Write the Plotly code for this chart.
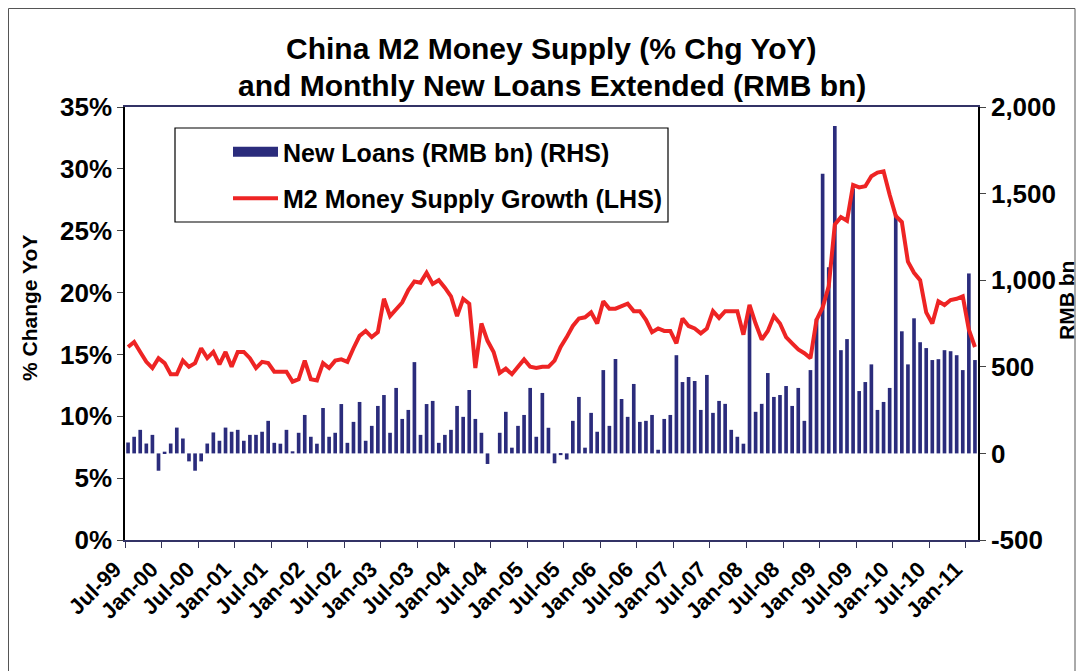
import plotly.graph_objects as go
import pandas as pd

# ---- data (Jul-99 .. Feb-11, monthly) ----
months = list(pd.date_range("1999-07-01", periods=140, freq="MS").strftime("%b-%y"))

m2_growth = [
    15.6, 16.0, 15.2, 14.4, 13.9, 14.7, 14.3, 13.4, 13.4, 14.5, 14.0, 14.3,
    15.5, 14.7, 15.2, 14.2, 15.2, 14.0, 15.2, 15.2, 14.7, 13.9, 14.4, 14.3,
    13.6, 13.6, 13.6, 12.8, 13.0, 14.5, 13.0, 12.9, 14.3, 13.9, 14.5, 14.6,
    14.4, 15.5, 16.5, 16.9, 16.4, 16.8, 19.5, 18.1, 18.6, 19.2, 20.2, 20.9,
    20.8, 21.6, 20.7, 21.0, 20.4, 19.7, 18.1, 19.5, 19.1, 13.9, 17.5, 16.1,
    15.2, 13.5, 13.85, 13.4, 14.0, 14.6, 14.0, 13.9, 14.0, 14.0, 14.5, 15.6,
    16.4, 17.3, 17.9, 18.0, 18.4, 17.5, 19.3, 18.7, 18.7, 18.9, 19.1, 18.5,
    18.5, 17.8, 16.8, 17.1, 16.9, 16.9, 15.9, 17.9, 17.3, 17.1, 16.7, 17.1,
    18.5, 17.95, 18.5, 18.5, 18.5, 16.6, 19.0, 17.5, 16.2, 16.9, 18.1, 17.5,
    16.4, 15.9, 15.4, 15.1, 14.7, 17.8, 18.8, 20.5, 25.5, 26.1, 25.8, 28.7,
    28.5, 28.6, 29.4, 29.7, 29.8, 27.9, 26.2, 25.7, 22.5, 21.6, 21.0, 18.4,
    17.5, 19.3, 19.0, 19.4, 19.5, 19.7, 17.0, 15.6,
]

new_loans = [
    63, 96, 136, 57, 107, -100, 10, 57, 149, 86, -46, -100,
    -46, 57, 121, 73, 149, 125, 136, 73, 107, 107, 125, 188,
    61, 56, 136, 12, 119, 222, 96, 56, 262, 96, 119, 285,
    61, 182, 297, 73, 159, 274, 337, 119, 378, 199, 251, 527,
    107, 285, 303, 61, 107, 136, 274, 211, 366, 199, 119, -61,
    0, 119, 240, 33, 159, 222, 378, 96, 349, 148, -57, -10,
    -35, 188, 326, 33, 234, 125, 481, 159, 545, 314, 211, 401,
    182, 188, 222, 21, 199, 222, 567, 412, 441, 418, 251, 453,
    234, 303, 286, 136, 96, 56, 810, 240, 286, 464, 326, 337,
    389, 274, 378, 188, 481, 778, 1615, 1075, 1890, 596, 660, 1530,
    360, 412, 514, 251, 297, 378, 1380, 705, 514, 780, 642, 608,
    539, 544, 596, 590, 567, 481, 1039, 539,
]

tick_labels = ["Jul-99", "Jan-00", "Jul-00", "Jan-01", "Jul-01", "Jan-02", "Jul-02",
               "Jan-03", "Jul-03", "Jan-04", "Jul-04", "Jan-05", "Jul-05", "Jan-06",
               "Jul-06", "Jan-07", "Jul-07", "Jan-08", "Jul-08", "Jan-09", "Jul-09",
               "Jan-10", "Jul-10", "Jan-11"]
left_ticks = [0, 5, 10, 15, 20, 25, 30, 35]
right_ticks = [-500, 0, 500, 1000, 1500, 2000]

NAVY = "#2B2C7C"
RED = "#EE2424"
FONT = "Liberation Sans, Arial, sans-serif"

idx = list(range(len(months)))
boundaries = [months.index(lbl) - 0.5 for lbl in tick_labels]

# plot area on screen (page body margin removed by post_script)
PL, PR, PT, PB = 125, 978, 107, 540
W, H = 1081, 671


def px(x):
    return (x - PL) / (PR - PL)


def py(y):
    return (PB - y) / (PB - PT)


fig = go.Figure()
fig.add_trace(go.Bar(
    x=idx, y=new_loans, yaxis="y", name="New Loans (RMB bn) (RHS)",
    marker=dict(color=NAVY, line=dict(width=0)), showlegend=False,
    customdata=months, hovertemplate="%{customdata}: %{y}<extra></extra>",
))
# legend swatch for the bars (wide block like the original)
fig.add_trace(go.Scatter(
    x=[None], y=[None], yaxis="y", mode="lines", name="New Loans (RMB bn) (RHS)",
    line=dict(color=NAVY, width=14), legendgroup="a", hoverinfo="skip",
))
fig.add_trace(go.Scatter(
    x=idx, y=m2_growth, yaxis="y2", mode="lines", name="M2 Money Supply Growth (LHS)",
    line=dict(color=RED, width=4), legendgroup="b",
    customdata=months, hovertemplate="%{customdata}: %{y}%<extra></extra>",
))

xfont = dict(family=FONT, size=22, color="black", weight="bold")
yfont = dict(family=FONT, size=26, color="black", weight="bold")
tfont = dict(family=FONT, size=21, color="black", weight="bold")

fig.update_layout(
    width=W, height=H,
    margin=dict(l=PL, r=W - PR, t=PT, b=H - PB, autoexpand=False),
    paper_bgcolor="white", plot_bgcolor="white",
    bargap=0.4,
    showlegend=True,
    legend=dict(
        x=px(228), y=py(129), xanchor="left", yanchor="top",
        bgcolor="rgba(0,0,0,0)", borderwidth=0,
        font=dict(family=FONT, size=25, color="black", weight="bold"),
        tracegroupgap=11, itemwidth=45, traceorder="grouped",
    ),
    xaxis=dict(
        range=[-0.5, len(months) - 0.5], tickmode="array", tickvals=boundaries,
        ticktext=tick_labels, tickangle=-45, ticks="outside", ticklen=6,
        tickcolor="#333355", ticklabelshift=-10,
        showline=True, linecolor="#333366", linewidth=1.5,
        mirror=True, showgrid=False, zeroline=False, tickfont=xfont,
    ),
    yaxis=dict(
        side="right", range=[-500, 2000], tickmode="array", tickvals=right_ticks,
        ticktext=[f"{v:,}" for v in right_ticks], ticks="outside", ticklen=6,
        showline=True, linecolor="black", linewidth=1.5, showgrid=False, zeroline=False,
        tickfont=yfont,
    ),
    yaxis2=dict(
        overlaying="y", side="left", range=[0, 35], tickmode="array", tickvals=left_ticks,
        ticktext=[f"{v}%" for v in left_ticks], ticks="outside", ticklen=6,
        showline=True, linecolor="black", linewidth=1.5, showgrid=False, zeroline=False,
        tickfont=yfont,
    ),
    annotations=[
        dict(text="<b>China M2 Money Supply (% Chg YoY)</b>", xref="paper", yref="paper",
             x=0.5, y=py(48), xanchor="center", yanchor="middle", showarrow=False,
             font=dict(family=FONT, size=30, color="black")),
        dict(text="<b>and Monthly New Loans Extended (RMB bn)</b>", xref="paper", yref="paper",
             x=0.5, y=py(85), xanchor="center", yanchor="middle", showarrow=False,
             font=dict(family=FONT, size=30, color="black")),
        # axis titles
        dict(text="% Change YoY", xref="paper", yref="paper", x=px(29), y=py(308),
             xanchor="center", yanchor="middle", textangle=-90, showarrow=False, font=tfont),
        dict(text="RMB bn", xref="paper", yref="paper", x=px(1066), y=py(301),
             xanchor="center", yanchor="middle", textangle=-90, showarrow=False, font=tfont),
    ],
    shapes=[
        # legend box
        dict(type="rect", xref="paper", yref="paper",
             x0=px(175), x1=px(668), y0=py(222), y1=py(128),
             line=dict(color="black", width=1.2), fillcolor="rgba(0,0,0,0)", layer="above"),
        # outer chart border (bottom edge lies below the visible page)
        dict(type="rect", xref="paper", yref="paper",
             x0=px(8.5), x1=px(1075), y0=py(690), y1=py(8.5),
             line=dict(color="#555555", width=1), fillcolor="rgba(0,0,0,0)", layer="below"),
    ],
)

fig.write_html(
    "out.html",
    config={"displayModeBar": False},
    post_script="document.body.style.margin='0';document.body.style.overflow='hidden';",
)
